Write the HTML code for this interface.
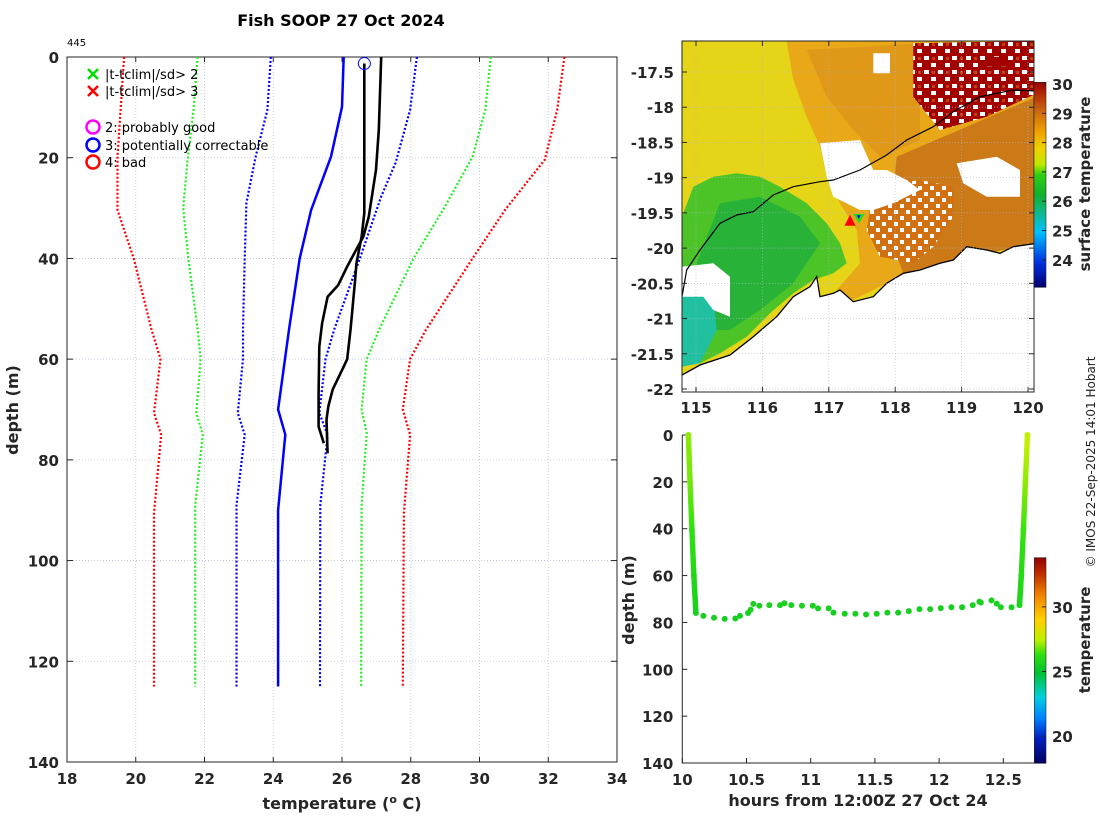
<!DOCTYPE html>
<html><head><meta charset="utf-8"><style>
html,body{margin:0;padding:0;background:#fff;}
svg{display:block;font-family:"DejaVu Sans","Liberation Sans",sans-serif;}
.tk{font-weight:bold;font-size:15px;fill:#262626;}
.lg{font-size:13px;fill:#000;}
</style></head><body>
<svg id="fig" width="1100" height="820" viewBox="0 0 1100 820" xmlns="http://www.w3.org/2000/svg">
<defs>
<pattern id="speck" width="14" height="14" patternUnits="userSpaceOnUse">
<rect width="14" height="14" fill="#a30000"/>
<rect x="0" y="0" width="5" height="4" fill="#fff"/>
<rect x="7" y="7" width="5" height="4" fill="#fff"/>
<rect x="8" y="1" width="3" height="3" fill="#c04010"/>
</pattern>
<pattern id="speck2" width="12" height="12" patternUnits="userSpaceOnUse">
<rect width="12" height="12" fill="#d07010"/>
<rect x="0" y="0" width="4" height="4" fill="#fff"/>
<rect x="6" y="6" width="4" height="4" fill="#fff"/>
</pattern>
<linearGradient id="cb1" x1="0" y1="1" x2="0" y2="0">
<stop offset="0" stop-color="#000070"/><stop offset="0.12" stop-color="#0030e0"/>
<stop offset="0.27" stop-color="#00c0ff"/><stop offset="0.36" stop-color="#10b890"/>
<stop offset="0.45" stop-color="#10b030"/><stop offset="0.55" stop-color="#30d010"/>
<stop offset="0.6" stop-color="#c0e800"/><stop offset="0.68" stop-color="#f0d000"/>
<stop offset="0.76" stop-color="#f0a000"/><stop offset="0.87" stop-color="#c86010"/>
<stop offset="1" stop-color="#a00000"/>
</linearGradient>
<linearGradient id="cb2" x1="0" y1="1" x2="0" y2="0">
<stop offset="0" stop-color="#000060"/><stop offset="0.12" stop-color="#0020c0"/>
<stop offset="0.22" stop-color="#0080ff"/><stop offset="0.32" stop-color="#00d0e0"/>
<stop offset="0.44" stop-color="#00c030"/><stop offset="0.53" stop-color="#30e010"/>
<stop offset="0.6" stop-color="#c0f000"/><stop offset="0.7" stop-color="#ffd000"/>
<stop offset="0.82" stop-color="#f08000"/><stop offset="0.92" stop-color="#c03000"/>
<stop offset="1" stop-color="#900000"/>
</linearGradient>
<clipPath id="mapclip"><rect x="682" y="41" width="352" height="351"/></clipPath>
</defs>
<text x="341" y="26" text-anchor="middle" font-weight="bold" font-size="16">Fish SOOP 27 Oct 2024</text>
<text x="67" y="46" font-size="10">445</text>
<g id="left"></g>
<g id="map"></g>
<g id="br"></g>
<text transform="translate(1095,462) rotate(-90)" text-anchor="middle" font-size="12" fill="#222">© IMOS 22-Sep-2025 14:01 Hobart</text>
</svg>
<script>
// ---------- Left profile plot data ----------
const tempTicks = [18,20,22,24,26,28,30,32,34];
const depthTicks = [0,20,40,60,80,100,120,140];
const redLeftT = [19.66,19.47,19.47,19.94,20.46,20.72,20.53,20.74,20.53,20.53];
const redLeftD = [0,19.8,30.4,40,54.2,60,70.7,75,90.6,125];
const redRightT = [32.47,32.26,31.9,30.74,29.8,28.44,27.98,27.77,27.98,27.8,27.77];
const redRightD = [0,10.5,20.4,30.4,40,54.2,60,70,75,90.6,125];
const greenLeftT = [21.8,21.68,21.5,21.38,21.53,21.8,21.89,21.76,21.95,21.73,21.73];
const greenLeftD = [0,10.5,21,30,40,54,60,70.7,75,89,125];
const greenRightT = [30.33,30.17,29.8,28.97,28.08,27.09,26.72,26.57,26.72,26.57,26.56];
const greenRightD = [0,10.5,19.8,30,40,54,60,70,74.7,89,125];
const blueLeftT = [23.93,23.83,23.48,23.22,23.17,23.12,23.12,22.97,23.17,22.93,22.93];
const blueLeftD = [0,10.5,20,29,40,54,60,70.7,75,89,125];
const blueRightT = [28.18,27.98,27.56,27.14,26.52,25.78,25.52,25.34,25.58,25.37,25.36];
const blueRightD = [0,10.5,21,27.7,40,54,60,70.7,75,89,125];
const meanT = [26.05,26.0,25.68,25.1,24.77,24.46,24.14,24.35,24.14,24.14];
const meanD = [0,9.9,19.8,30.4,40,54,70,75,90,125];
const prof1T = [26.65,26.65,26.57,26.42,26.38,26.25,26.15,26.05,25.73,25.6,25.55,25.58];
const prof1D = [1.3,31,35.7,41,44.3,54,60,61.5,66,69.4,72,78.7];
const prof2T = [27.14,27.07,26.99,26.78,26.62,26.46,26.15,25.89,25.58,25.42,25.34,25.32,25.32,25.47];
const prof2D = [0,14.5,22.4,31.7,35.7,37.7,41.6,45.3,47.6,52.9,57.5,66.8,73.4,76.7];
const flagT = [26.65]; const flagD = [1.3];

// ---------- Bottom-right data ----------
const hourTicks = [10,10.5,11,11.5,12,12.5];
const hrs = [10.047,10.06,10.075,10.09,10.106,10.164,10.247,10.33,10.413,10.449,10.512,10.532,10.553,10.6,10.678,10.761,10.795,10.849,10.932,11.016,11.057,11.14,11.177,11.265,11.348,11.431,11.514,11.597,11.681,11.764,11.847,11.93,12.013,12.096,12.179,12.262,12.314,12.325,12.408,12.449,12.481,12.564,12.626,12.64,12.657,12.672,12.688];
const dep = [0,20,40.5,60,76,77.2,78,78.5,78.3,77.2,76,74.6,72.1,72.9,72.6,72.6,71.8,72.6,72.9,72.9,74,74,75.8,76.3,76.3,76.6,76.3,75.8,75.8,75.2,74.3,74.3,73.9,73.5,73.5,72.6,71.1,71.5,70.6,72,73.5,73.5,72.6,60,40,20,0];
const tmp = [27.0,26.8,26.3,25.9,25.6,25.5,25.5,25.5,25.5,25.5,25.5,25.6,25.6,25.6,25.6,25.6,25.6,25.6,25.6,25.6,25.6,25.5,25.5,25.5,25.5,25.5,25.5,25.5,25.5,25.5,25.5,25.5,25.5,25.5,25.5,25.6,25.6,25.6,25.6,25.6,25.6,25.6,25.7,26.0,26.4,27.0,27.5];
const cbTicks2 = [20,25,30];
const cbTicks1 = [24,25,26,27,28,29,30];
const latTicks = [-17.5,-18,-18.5,-19,-19.5,-20,-20.5,-21,-21.5,-22];
const lonTicks = [115,116,117,118,119,120];

const NS='http://www.w3.org/2000/svg';
function mk(tag, attrs, parent){const e=document.createElementNS(NS,tag);for(const k in attrs)e.setAttribute(k,attrs[k]);parent.appendChild(e);return e;}

// ---- Left axes ----
const L = document.getElementById('left');
const X0=67,X1=617,Y0=57,Y1=762;
const xT = t => X0+(t-18)*(X1-X0)/16;
const yD = d => Y0+(d)*(Y1-Y0)/140;
tempTicks.forEach(t=>{
  if(t>18&&t<34){const g=mk('line',{x1:xT(t),x2:xT(t),y1:Y0,y2:Y1,stroke:'#b8c0dc','stroke-width':0.8,'stroke-dasharray':'1 2'},L);
  }
  const tk=mk('line',{x1:xT(t),x2:xT(t),y1:Y1,y2:Y1-5,stroke:'#262626'},L);
  mk('line',{x1:xT(t),x2:xT(t),y1:Y0,y2:Y0+5,stroke:'#262626'},L);
  const tx=mk('text',{x:xT(t),y:Y1+22,'text-anchor':'middle',class:'tk'},L);tx.textContent=t;
  
});
depthTicks.forEach(d=>{
  if(d>0&&d<140){const g=mk('line',{x1:X0,x2:X1,y1:yD(d),y2:yD(d),stroke:'#b8c0dc','stroke-width':0.8,'stroke-dasharray':'1 2'},L);
  }
  mk('line',{x1:X0,x2:X0+6,y1:yD(d),y2:yD(d),stroke:'#262626'},L);
  mk('line',{x1:X1,x2:X1-6,y1:yD(d),y2:yD(d),stroke:'#262626'},L);
  const tx=mk('text',{x:X0-8,y:yD(d)+6,'text-anchor':'end',class:'tk'},L);tx.textContent=d;
  
});
const box=mk('rect',{x:X0,y:Y0,width:X1-X0,height:Y1-Y0,fill:'none',stroke:'#262626','stroke-width':1},L);

function series(T,D,color,dash,w,name){
  const p=T.map((t,i)=>xT(t).toFixed(1)+','+yD(D[i]).toFixed(1)).join(' ');
  const a={points:p,fill:'none',stroke:color,'stroke-width':w,'stroke-linejoin':'round'};
  if(dash)a['stroke-dasharray']=dash;
  const e=mk('polyline',a,L);
  
  
}
series(redLeftT,redLeftD,'#ff0000','2 2',2.2,'clim-minus-3sd');
series(redRightT,redRightD,'#ff0000','2 2',2.2,'clim-plus-3sd');
series(greenLeftT,greenLeftD,'#22ee22','2 2',2.2,'clim-minus-2sd');
series(greenRightT,greenRightD,'#22ee22','2 2',2.2,'clim-plus-2sd');
series(blueLeftT,blueLeftD,'#0000ff','2 2',2.2,'clim-minus-1sd');
series(blueRightT,blueRightD,'#0000ff','2 2',2.2,'clim-plus-1sd');
series(meanT,meanD,'#0000ff',null,2.5,'clim-mean');
series(prof2T,prof2D,'#000',null,2.6,'profile-previous');
series(prof1T,prof1D,'#000',null,2.6,'profile-current');
flagT.forEach((t,i)=>{const c=mk('circle',{cx:xT(t),cy:yD(flagD[i]),r:6,fill:'none',stroke:'#0000ff','stroke-width':1},L);
  });
// legend
const lgItems=[['x','#00dd00',74,'|t-tclim|/sd> 2'],['x','#ff0000',91,'|t-tclim|/sd> 3'],['o','#ff00ff',127,'2: probably good'],['o','#0000ff',145,'3: potentially correctable'],['o','#ff0000',162,'4: bad']];
lgItems.forEach(it=>{
  const g=mk('g',{},L);
  
  
  if(it[0]==='x'){mk('path',{d:`M88 ${it[2]-5}L98 ${it[2]+5}M98 ${it[2]-5}L88 ${it[2]+5}`,stroke:it[1],'stroke-width':2.5},g);}
  else mk('circle',{cx:93,cy:it[2],r:6.5,fill:'none',stroke:it[1],'stroke-width':2.5},g);
  const t=mk('text',{x:105,y:it[2]+5,class:'lg'},g);t.textContent=it[3];
});
let t1=mk('text',{x:342,y:809,'text-anchor':'middle','font-weight':'bold','font-size':16,fill:'#262626'},L);
t1.innerHTML='temperature (<tspan dy="-6" font-size="11">o</tspan><tspan dy="6"> C)</tspan>';

let t2=mk('text',{transform:'translate(18,410) rotate(-90)','text-anchor':'middle','font-weight':'bold','font-size':16,fill:'#262626'},L);
t2.textContent='depth (m)';

// ---- Map ----
const M=document.getElementById('map');
const mx0=682,mx1=1034,my0=41,my1=392;
const xLon=l=>696+(l-115)*66.4;
const yLat=l=>72+(-17.5-l)*70.44;
const z=(a,b)=>[(620+a/3).toFixed(1),(30+b/3).toFixed(1)].join(',');
const poly=(pts,fill,name,extra)=>{const e=mk('polygon',Object.assign({points:pts.map(p=>z(p[0],p[1])).join(' '),fill:fill},extra||{}),mg);
  return e;};
const mg=mk('g',{'clip-path':'url(#mapclip)'},M);
mk('rect',{x:mx0,y:my0,width:mx1-mx0,height:my1-my0,fill:'#fff'},mg);
const coast=[[186,1035],[240,1005],[330,975],[400,920],[470,860],[520,800],[570,770],[590,740],[600,800],[640,790],[660,780],[700,815],[760,800],[800,760],[850,730],[900,720],[960,700],[1000,690],[1040,650],[1100,660],[1140,670],[1180,650],[1250,640]];
poly([[186,33],[1250,33]].concat(coast.slice().reverse()),'#e6d418','sea-surface-yellow');
poly([[500,33],[1250,33],[1250,640],[1000,690],[800,760],[700,810],[650,780],[720,700],[710,600],[660,520],[620,440],[600,350],[560,260],[520,150]],'#e8a818','sea-surface-orange');
poly([[560,60],[900,40],[900,330],[780,380],[700,300],[620,200]],'#e09818','sea-surface-orange-core');
poly([[830,380],[1250,200],[1250,640],[1000,690],[850,730],[800,600],[820,480]],'#cc7a18','sea-surface-brown');
poly([[186,730],[186,560],[220,470],[280,440],[350,430],[420,440],[480,470],[560,520],[620,580],[660,640],[680,700],[640,730],[580,750],[520,790],[450,850],[380,920],[300,970],[240,1000],[186,1000]],'#4cc428','sea-surface-green');
poly([[230,700],[300,520],[420,500],[540,560],[600,640],[520,760],[420,840],[330,900],[260,900]],'#28b238','sea-surface-green-core');
poly([[186,780],[280,800],[290,900],[240,1000],[186,1010]],'#20c0a0','sea-surface-teal');
poly([[186,710],[280,700],[330,740],[330,860],[280,840],[250,800],[186,800]],'#ffffff','cloud-gap');
poly([[880,40],[1250,33],[1250,190],[1100,260],[960,300],[880,200]],'url(#speck)','sea-surface-dark-red');
poly([[760,470],[900,450],[1000,470],[1000,560],[940,650],[880,700],[780,680],[740,600]],'url(#speck2)','speckled-region');
poly([[600,340],[720,330],[760,420],[800,420],[860,450],[900,480],[820,520],[760,540],[720,540],[640,500],[620,440]],'#ffffff','cloud-gap-center');
poly([[1010,400],[1130,380],[1200,420],[1200,500],[1100,500],[1030,460]],'#ffffff','cloud-gap-east');
poly([[760,70],[810,70],[810,130],[760,130]],'#ffffff','cloud-gap-north');
poly([[1100,80],[1160,80],[1160,110],[1100,110]],'#a30000','sea-surface-red-patch');
// land below coast
poly(coast.concat([[1250,1100],[186,1100]]),'#ffffff','land');
const cl=mk('polyline',{points:coast.map(p=>z(p[0],p[1])).join(' '),fill:'none',stroke:'#000','stroke-width':1.3},mg);

const iso=[[186,800],[200,720],[240,660],[300,580],[350,555],[400,545],[460,495],[520,470],[600,455],[640,450],[720,420],[800,375],[860,330],[940,290],[1000,245],[1080,200],[1180,180],[1250,183]];
const il=mk('polyline',{points:iso.map(p=>z(p[0],p[1])).join(' '),fill:'none',stroke:'#000','stroke-width':1.2},mg);

lonTicks.forEach(l=>{mk('line',{x1:xLon(l),x2:xLon(l),y1:my0,y2:my1,stroke:'#aab4d8','stroke-width':0.6,'stroke-dasharray':'1 2'},M);
  mk('line',{x1:xLon(l),x2:xLon(l),y1:my1,y2:my1-5,stroke:'#262626'},M);
  mk('line',{x1:xLon(l),x2:xLon(l),y1:my0,y2:my0+5,stroke:'#262626'},M);
  const t=mk('text',{x:xLon(l),y:my1+21,'text-anchor':'middle',class:'tk'},M);t.textContent=l;
  });
latTicks.forEach(l=>{mk('line',{x1:mx0,x2:mx1,y1:yLat(l),y2:yLat(l),stroke:'#aab4d8','stroke-width':0.6,'stroke-dasharray':'1 2'},M);
  mk('line',{x1:mx0,x2:mx0+5,y1:yLat(l),y2:yLat(l),stroke:'#262626'},M);
  mk('line',{x1:mx1,x2:mx1-5,y1:yLat(l),y2:yLat(l),stroke:'#262626'},M);
  const t=mk('text',{x:mx0-8,y:yLat(l)+6,'text-anchor':'end',class:'tk'},M);t.textContent=l;
  });
mk('rect',{x:mx0,y:my0,width:mx1-mx0,height:my1-my0,fill:'none',stroke:'#262626'},M);
const tr1=mk('polygon',{points:[z(676,586),z(704,586),z(690,558)].join(' '),fill:'#ff0000',stroke:'#ff0000'},M);

const tr2=mk('polygon',{points:[z(700,552),z(734,552),z(717,580)].join(' '),fill:'#22dd22'},M);

mk('polygon',{points:[z(710,556),z(722,556),z(716,566)].join(' '),fill:'#0000ff'},M);
// colorbar 1
const cbTop1=82.3,cbBot1=287.3,cbMin1=23.06,cbMax1=30.06;
const yc1=v=>cbBot1-(v-cbMin1)*(cbBot1-cbTop1)/(cbMax1-cbMin1);
const cb1=mk('rect',{x:1034,y:cbTop1,width:12,height:cbBot1-cbTop1,fill:'url(#cb1)',stroke:'#262626','stroke-width':0.6},M);

cbTicks1.forEach(v=>{mk('line',{x1:1046,x2:1042,y1:yc1(v),y2:yc1(v),stroke:'#262626'},M);
  const t=mk('text',{x:1052,y:yc1(v)+6,class:'tk'},M);t.textContent=v;
  });
let t3=mk('text',{transform:'translate(1090,184) rotate(-90)','text-anchor':'middle','font-weight':'bold','font-size':15,fill:'#262626'},M);
t3.textContent='surface temperature';

// ---- Bottom-right ----
const B=document.getElementById('br');
const bx0=682.3,bx1=1034.3,by0=435,by1=763;
const xH=h=>bx0+(h-10)*128.4;
const yB=d=>by0+d*(by1-by0)/140;
const cbTop2=557.7,cbBot2=763.3,cbMin2=17.9,cbMax2=33.8;
const yc2=v=>cbBot2-(v-cbMin2)*(cbBot2-cbTop2)/(cbMax2-cbMin2);
const jetStops=[[17.9,[0,0,96]],[20,[0,32,192]],[21.5,[0,128,255]],[23,[0,208,224]],[24.8,[0,192,48]],[26.3,[48,224,16]],[27.4,[192,240,0]],[29,[255,208,0]],[31,[240,128,0]],[32.5,[192,48,0]],[33.8,[144,0,0]]];
function jet(v){for(let i=1;i<jetStops.length;i++){if(v<=jetStops[i][0]){const a=jetStops[i-1],b=jetStops[i];const f=(v-a[0])/(b[0]-a[0]);return 'rgb('+a[1].map((c,k)=>Math.round(c+(b[1][k]-c)*f)).join(',')+')';}}return 'rgb(144,0,0)';}
depthTicks.forEach(d=>{mk('line',{x1:bx0,x2:bx0+5,y1:yB(d),y2:yB(d),stroke:'#262626'},B);
  const t=mk('text',{x:bx0-9,y:yB(d)+6,'text-anchor':'end',class:'tk'},B);t.textContent=d;
  });
hourTicks.forEach(h=>{mk('line',{x1:xH(h),x2:xH(h),y1:by1,y2:by1-5,stroke:'#262626'},B);
  const t=mk('text',{x:xH(h),y:by1+22,'text-anchor':'middle',class:'tk'},B);t.textContent=h;
  });
mk('path',{d:`M${bx0} ${by0}V${by1}H${bx1}`,fill:'none',stroke:'#262626'},B);
// dense descent/ascent segments
for(let i=0;i<hrs.length-1;i++){
  const steep=Math.abs(dep[i+1]-dep[i])>10;
  if(steep){const n=20;for(let k=0;k<n;k++){const f=k/n;
    const c=mk('circle',{cx:xH(hrs[i]+(hrs[i+1]-hrs[i])*f),cy:yB(dep[i]+(dep[i+1]-dep[i])*f),r:2.8,fill:jet(tmp[i]+(tmp[i+1]-tmp[i])*f)},B);
    
    }}
}
hrs.forEach((h,i)=>{const c=mk('circle',{cx:xH(h),cy:yB(dep[i]),r:3,fill:jet(tmp[i])},B);
  
  });
const cb2=mk('rect',{x:1034.3,y:cbTop2,width:11.7,height:cbBot2-cbTop2,fill:'url(#cb2)',stroke:'#262626','stroke-width':0.6},B);

cbTicks2.forEach(v=>{mk('line',{x1:1046,x2:1042,y1:yc2(v),y2:yc2(v),stroke:'#262626'},B);
  const t=mk('text',{x:1052,y:yc2(v)+6,class:'tk'},B);t.textContent=v;
  });
let t4=mk('text',{transform:'translate(1090,640) rotate(-90)','text-anchor':'middle','font-weight':'bold','font-size':15,fill:'#262626'},B);
t4.textContent='temperature';
let t5=mk('text',{transform:'translate(634,600) rotate(-90)','text-anchor':'middle','font-weight':'bold','font-size':16,fill:'#262626'},B);
t5.textContent='depth (m)';
let t6=mk('text',{x:858,y:806,'text-anchor':'middle','font-weight':'bold','font-size':16,fill:'#262626'},B);
t6.textContent='hours from 12:00Z 27 Oct 24';
</script>
</body></html>
